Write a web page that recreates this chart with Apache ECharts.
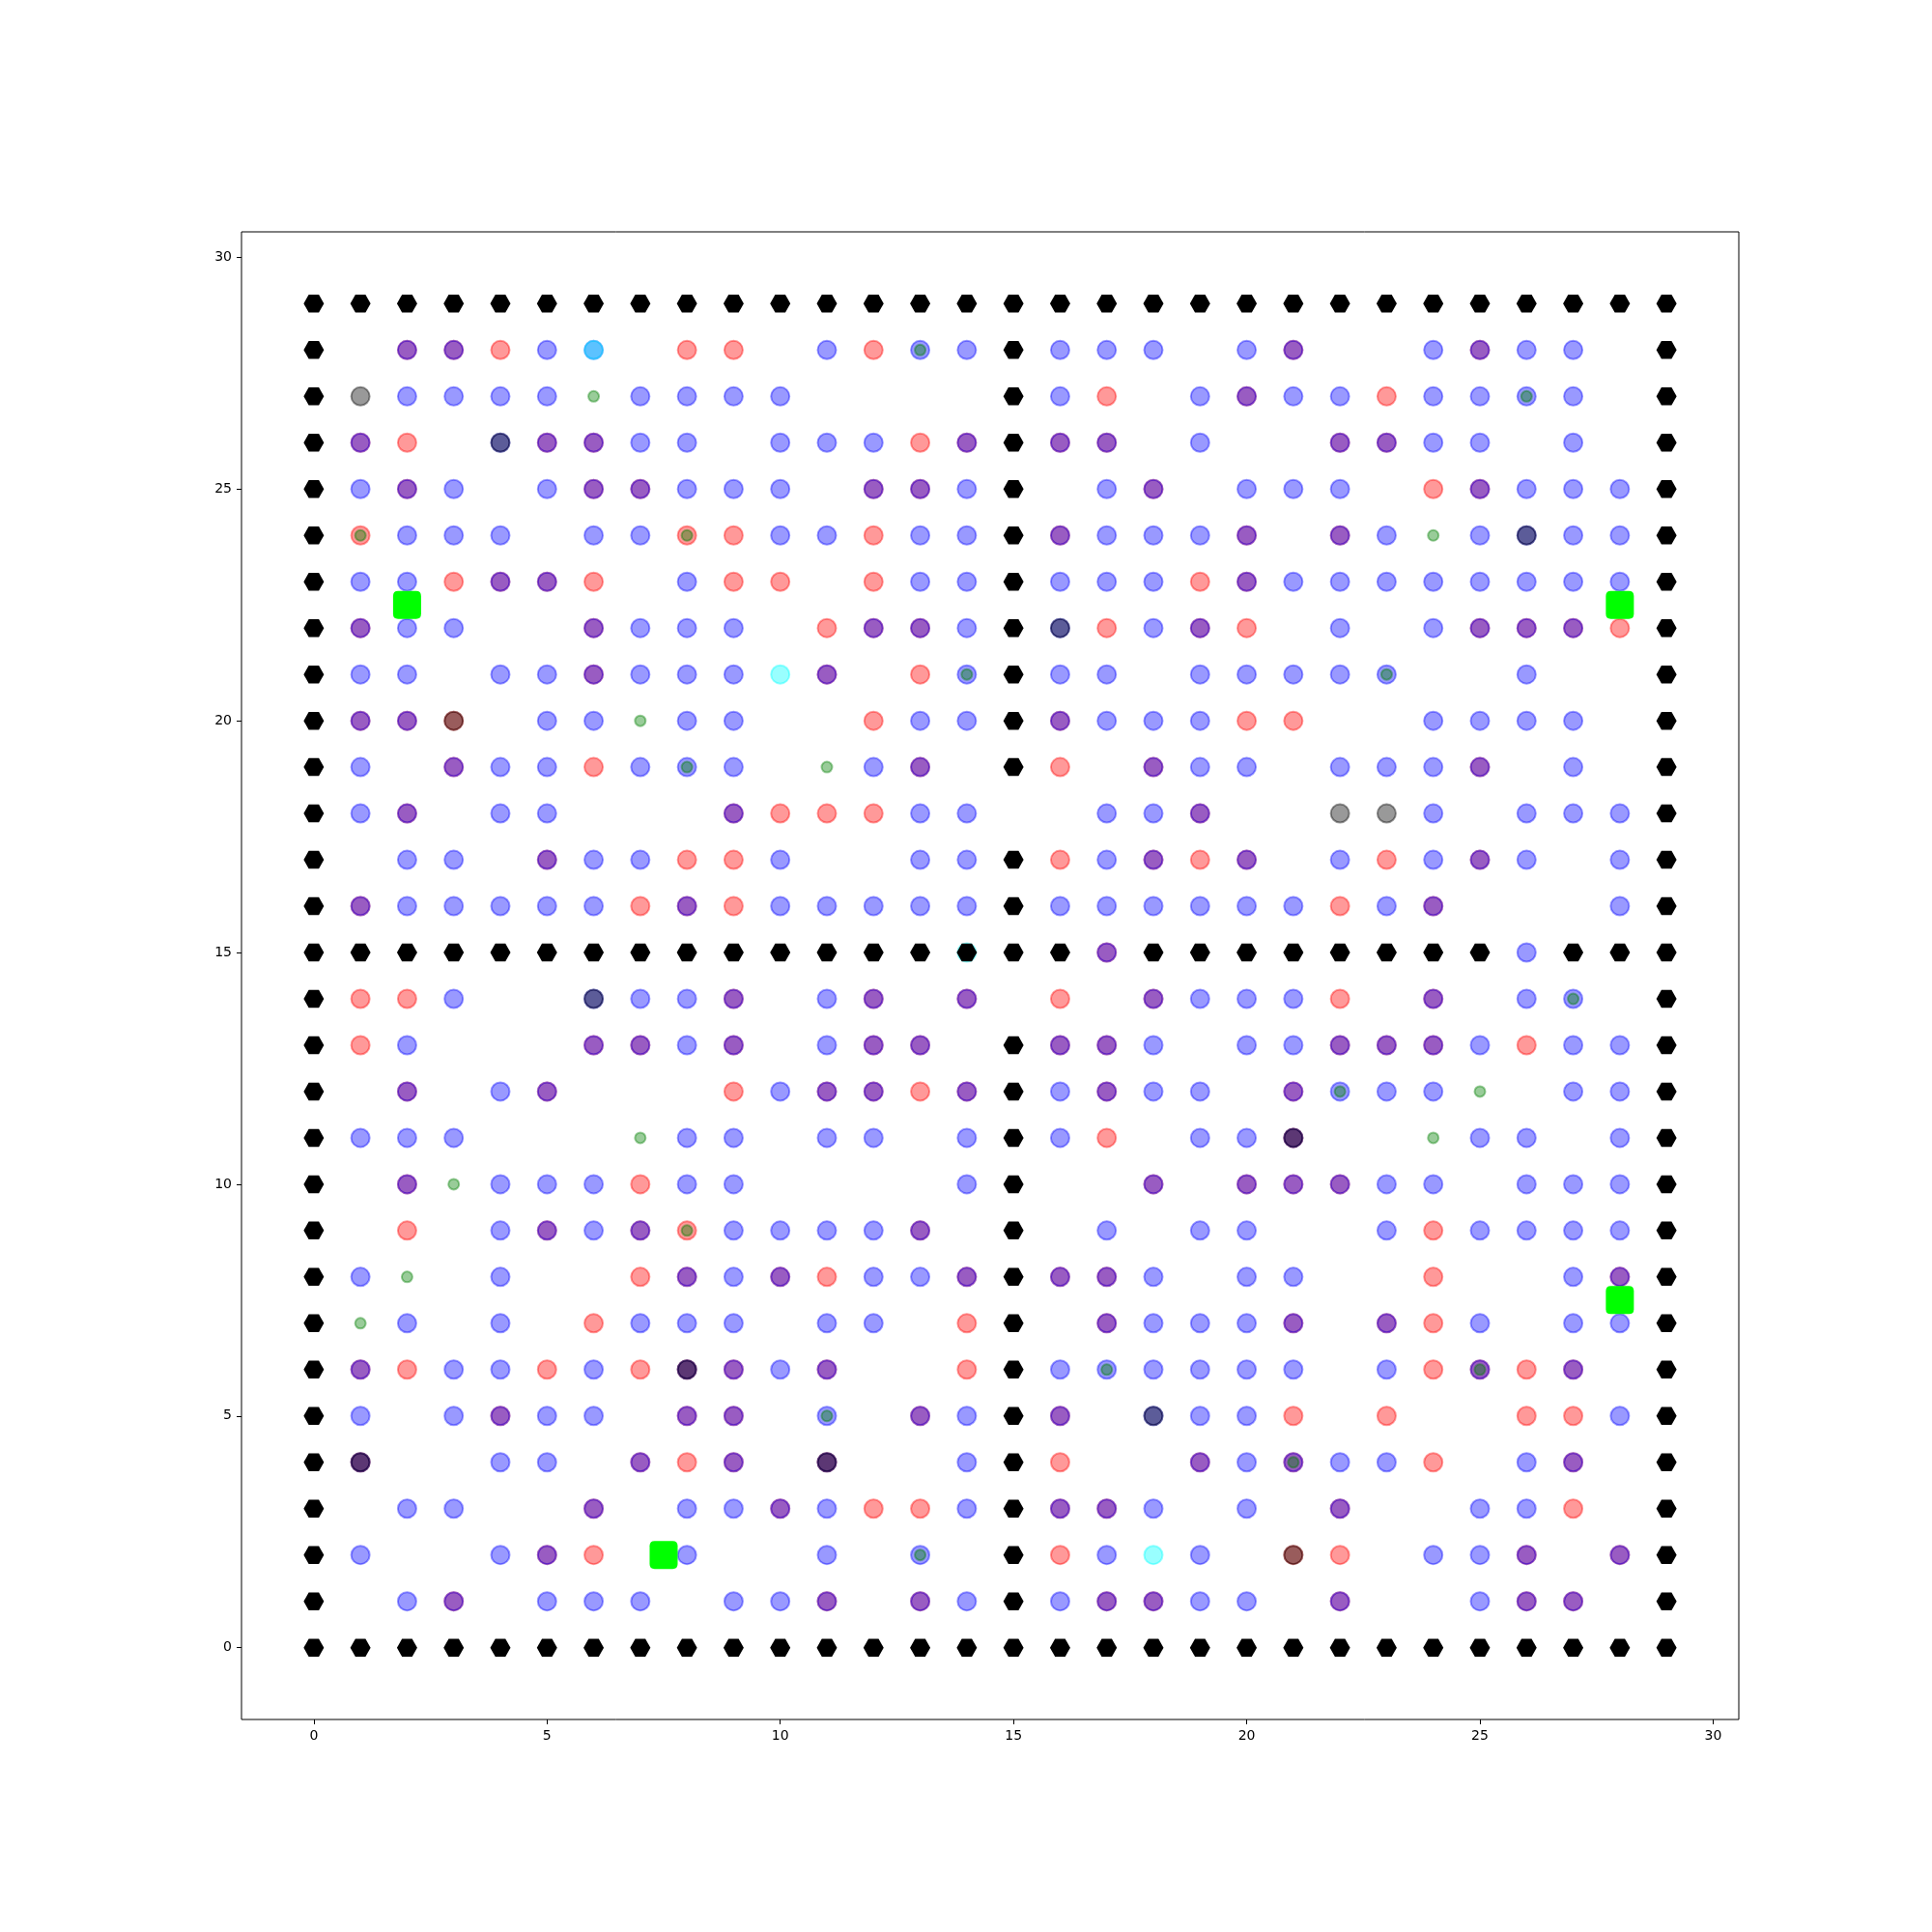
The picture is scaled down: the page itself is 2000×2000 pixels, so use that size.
<!DOCTYPE html>
<html><head><meta charset="utf-8">
<script src="https://cdn.jsdelivr.net/npm/echarts@6/dist/echarts.min.js"></script>
<style>html,body{margin:0;padding:0;background:#fff}#chart{width:2000px;height:2000px}</style>
</head><body><div id="chart"></div>
<script>
// Tick labels
const xTicks = [0, 5, 10, 15, 20, 25, 30];
const yTicks = [0, 5, 10, 15, 20, 25, 30];

// Grid, top row is y = 29, bottom row is y = 0; column index = x.
// # wall, b blue, r red, p red+blue, k gray, n blue+gray, m red+gray, d red+blue+gray,
// g green, t blue+green, o red+green, v red+blue+green, c cyan, C blue+cyan, x wall+cyan
const cellMap = [
  "##############################",
  "#.pprbC.rr.brtb#bbb.bp..bpbb.#",
  "#kbbbbgbbbb....#br.bpbbrbbtb.#",
  "#pr.nppbb.bbbrp#pp.b..ppbb.b.#",
  "#bpb.bppbbb.ppb#.bp.bbb.rpbbb#",
  "#obbb.bborbbrbb#pbbbp.pbgbnbb#",
  "#bbrppr.brr.rbb#bbbrpbbbbbbbb#",
  "#pbb..pbbb.rppb#nrbpr.b.bpppr#",
  "#bb.bbpbbbcp.rt#bb.bbbbt..b..#",
  "#ppm.bbgbb..rbb#pbbbrr..bbbb.#",
  "#b.pbbrbtb.gbp.#r.pbb.bbbp.b.#",
  "#bp.bb...prrrbb..bbp..kkb.bbb#",
  "#.bb.pbbrrb..bb#rbprp.brbpb.b#",
  "#pbbbbbrprbbbbb#bbbbbbrbp...b#",
  "##############x##p########b###",
  "#rrb..nbbp.bp.p.r.pbbbr.p.bt.#",
  "#rb...ppbp.bpp.#ppb.bbpppbrbb#",
  "#.p.bp...rbpprp#bpbb.ptbbg.bb#",
  "#bbb...gbb.bb.b#br.bbd..gbb.b#",
  "#.pgbbbrbb....b#..p.pppbb.bbb#",
  "#.r.bpbpobbbbp.#.b.bb..brbbbb#",
  "#bg.b..rpbprbbp#ppb.bb..r..bp#",
  "#gb.b.rbbb.bb.r#.pbbbp.prb.bb#",
  "#prbbrbrdpbp..r#btbbbb.brvrp.#",
  "#b.bpbb.pp.t.pb#p.nbbr.r..rrb#",
  "#d..bb.prp.d..b#r..pbvbbr.bp.#",
  "#.bb..p.bbpbrrb#ppb.b.p..bbr.#",
  "#b..bpr.b..b.t.#rbcb.mr.bbp.p#",
  "#.bp.bbb.bbp.pb#bppbb.p..bpp.#",
  "##############################"
];
const cellLayers = {
  '#': ['wall'], 'b': ['blue'], 'r': ['red'], 'p': ['red', 'blue'], 'k': ['gray'],
  'n': ['blue', 'gray'], 'm': ['red', 'gray'], 'd': ['red', 'blue', 'gray'],
  'g': ['green'], 't': ['blue', 'green'], 'o': ['red', 'green'], 'v': ['red', 'blue', 'green'],
  'c': ['cyan'], 'C': ['blue', 'cyan'], 'x': ['cyan', 'wall']
};
// Lime squares (between grid cells)
const limeSquares = [[2, 22.5], [28, 22.5], [28, 7.5], [7.5, 2]];

const layers = { wall: [], red: [], blue: [], gray: [], green: [], cyan: [] };
cellMap.forEach((row, i) => {
  const y = cellMap.length - 1 - i;
  for (let x = 0; x < row.length; x++) {
    (cellLayers[row[x]] || []).forEach(l => layers[l].push([x, y]));
  }
});

const HEX = 'path://M-1,0 L-0.5,-0.866 L0.5,-0.866 L1,0 L0.5,0.866 L-0.5,0.866 Z';
const RSQ = 'path://M5,0 H23 Q28,0 28,5 V23 Q28,28 23,28 H5 Q0,28 0,23 V5 Q0,0 5,0 Z';

function layer(name, data, color, size, opacity, symbol, bw) {
  return {
    name, type: 'scatter', data, symbol: symbol || 'circle', symbolSize: size,
    silent: true, animation: false,
    itemStyle: { color, borderColor: color, borderWidth: bw === undefined ? 2 : bw, opacity }
  };
}

const axisCommon = (ticks) => ({
  type: 'value', min: -1.55, max: 30.55,
  axisLine: { show: false, onZero: false },
  splitLine: { show: false },
  axisTick: { show: true, length: 5, customValues: ticks, lineStyle: { color: '#000', width: 1 } },
  axisLabel: { customValues: ticks, color: '#000', fontSize: 14, fontFamily: 'DejaVu Sans', margin: 10 }
});

const chart = echarts.init(document.getElementById('chart'), null, { renderer: 'canvas' });
chart.setOption({
  backgroundColor: '#fff',
  animation: false,
  grid: { left: 250, top: 240, width: 1550, height: 1540, show: true, borderColor: '#000', borderWidth: 1, backgroundColor: 'transparent' },
  xAxis: axisCommon(xTicks),
  yAxis: axisCommon(yTicks),
  series: [
    layer('red', layers.red, '#ff0000', 19, 0.4),
    layer('blue', layers.blue, '#0000ff', 19, 0.4),
    layer('gray', layers.gray, '#000000', 19, 0.4),
    layer('green', layers.green, '#008000', 11, 0.4),
    layer('cyan', layers.cyan, '#00ffff', 19, 0.4),
    layer('wall', layers.wall, '#000000', [21, 18.5], 1, HEX, 0),
    layer('lime', limeSquares, '#00ff00', 29, 1, RSQ, 0)
  ]
});
</script></body></html>
